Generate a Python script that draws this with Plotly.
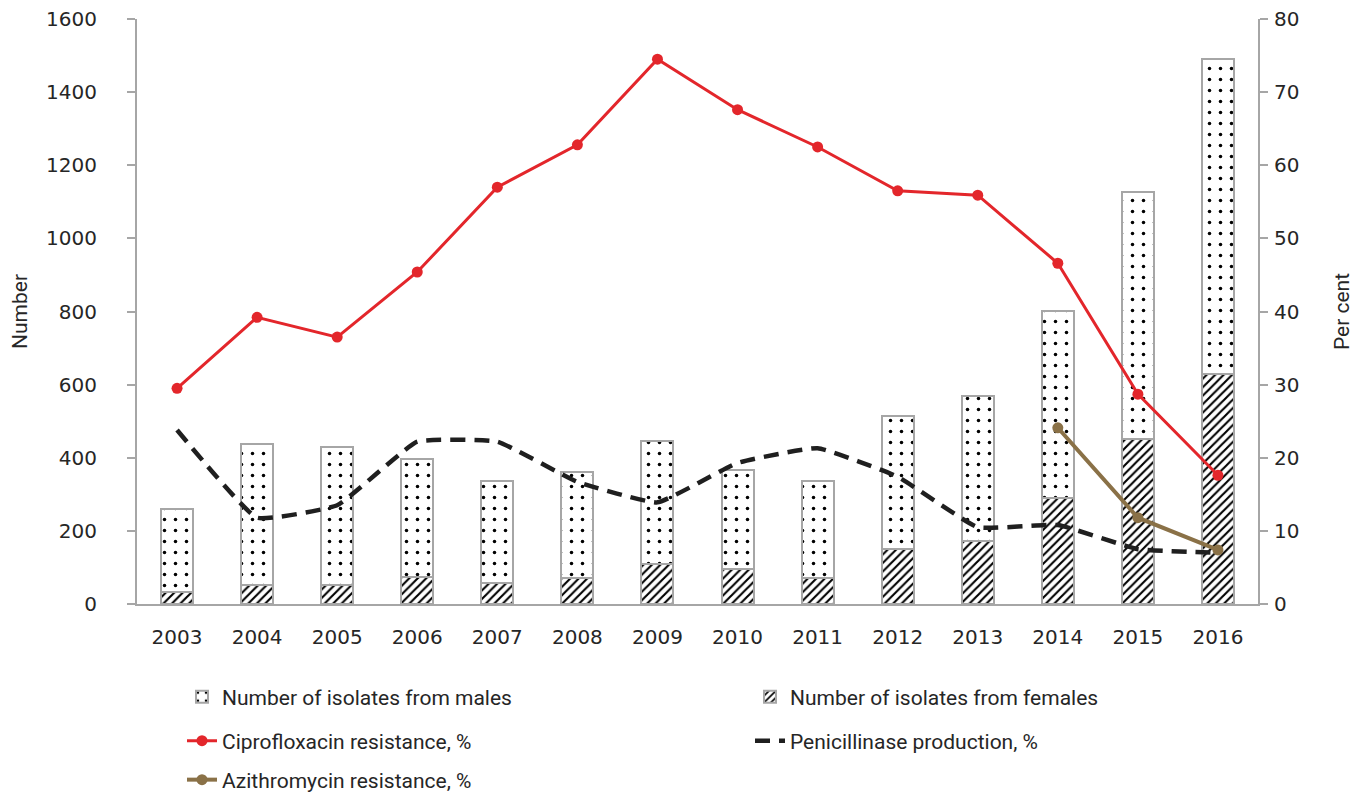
import plotly.graph_objects as go

years = ["2003", "2004", "2005", "2006", "2007", "2008", "2009", "2010",
         "2011", "2012", "2013", "2014", "2015", "2016"]
total_isolates = [260, 438, 429, 397, 336, 361, 446, 367, 336, 514, 569, 801, 1127, 1491]
females = [33, 52, 52, 74, 57, 71, 109, 96, 71, 150, 172, 290, 451, 629]
males = [t - f for t, f in zip(total_isolates, females)]
cipro = [29.5, 39.2, 36.5, 45.4, 57.0, 62.8, 74.5, 67.6, 62.5, 56.5, 55.9, 46.6, 28.7, 17.6]
penicillinase = [23.8, 11.8, 13.5, 22.2, 22.2, 16.7, 13.9, 19.3, 21.3, 17.4, 10.5, 10.8, 7.5, 7.0]
azi_years = ["2014", "2015", "2016"]
azithro = [24.1, 11.8, 7.4]

GRID = "#a6a6a6"
TXT = "#262626"
LEG_FONT = "'Liberation Sans Narrow', 'Roboto', sans-serif"
TICK_FONT = "'DejaVu Sans', 'Verdana', sans-serif"

# the page places the figure 8px in from the top-left corner
OFF = 8
W, H = 1359 - OFF, 793 - OFF

fig = go.Figure()
fig.add_trace(go.Bar(
    x=years, y=females, name="Number of isolates from females", legend="legend2",
    marker=dict(color="white", line=dict(color=GRID, width=2),
                pattern=dict(shape="/", fgcolor="black", bgcolor="white",
                             size=6, solidity=0.35, fillmode="replace")),
))
fig.add_trace(go.Bar(
    x=years, y=males, name="Number of isolates from males", legend="legend",
    marker=dict(color="white", line=dict(color=GRID, width=2),
                pattern=dict(shape=".", fgcolor="black", bgcolor="white",
                             size=11, solidity=0.08, fillmode="replace")),
))
fig.add_trace(go.Scatter(
    x=years, y=cipro, name="Ciprofloxacin resistance, %", yaxis="y2", legend="legend3",
    mode="lines+markers", line=dict(color="#e3262b", width=3),
    marker=dict(color="#e3262b", size=11),
))
fig.add_trace(go.Scatter(
    x=years, y=penicillinase, name="Penicillinase production, %", yaxis="y2", legend="legend4",
    mode="lines", line=dict(color="#1f1f1f", width=4.5, dash="15px,9px", shape="spline", smoothing=0.35),
))
fig.add_trace(go.Scatter(
    x=azi_years, y=azithro, name="Azithromycin resistance, %", yaxis="y2", legend="legend5",
    mode="lines+markers", line=dict(color="#8a7147", width=4),
    marker=dict(color="#8a7147", size=11),
))

def leg(xpx, ypx):
    return dict(x=(xpx - OFF) / W, xref="container", xanchor="left",
                y=1 - (ypx - OFF) / H, yref="container", yanchor="middle",
                orientation="h", bgcolor="rgba(0,0,0,0)",
                font=dict(family=LEG_FONT, size=21, color=TXT))

fig.update_layout(
    width=W, height=H, showlegend=True,
    margin=dict(l=137 - OFF, r=1359 - 1258, t=19 - OFF, b=793 - 604, autoexpand=False),
    paper_bgcolor="white", plot_bgcolor="white",
    barmode="stack", bargap=0.6,
    font=dict(family=TICK_FONT, color=TXT, size=20),
    xaxis=dict(type="category", range=[-0.5, 13.5], showgrid=False, showline=True,
               linecolor=GRID, linewidth=2, ticks="", ticklabelstandoff=14,
               tickfont=dict(family=TICK_FONT, size=20, color=TXT)),
    yaxis=dict(range=[0, 1600], dtick=200, showgrid=False, showline=True, linecolor=GRID,
               linewidth=2, ticks="outside", ticklen=8, tickcolor=GRID, tickwidth=2,
               ticklabelstandoff=26, ticklabeloverflow="allow",
               tickfont=dict(family=TICK_FONT, size=20, color=TXT),
               title=dict(text="Number", font=dict(family=LEG_FONT, size=21, color=TXT), standoff=14)),
    yaxis2=dict(range=[0, 80], dtick=10, overlaying="y", side="right", showgrid=False,
                showline=True, linecolor=GRID, linewidth=2, ticks="outside", ticklen=8,
                tickcolor=GRID, tickwidth=2, zeroline=False, ticklabelstandoff=2,
                ticklabeloverflow="allow",
                tickfont=dict(family=TICK_FONT, size=20, color=TXT),
                title=dict(text="Per cent", font=dict(family=LEG_FONT, size=21, color=TXT), standoff=36)),
    legend=leg(182, 697),
    legend2=leg(750, 697),
    legend3=leg(182, 741),
    legend4=leg(750, 741),
    legend5=leg(182, 780),
)

fig.write_html("out.html")
